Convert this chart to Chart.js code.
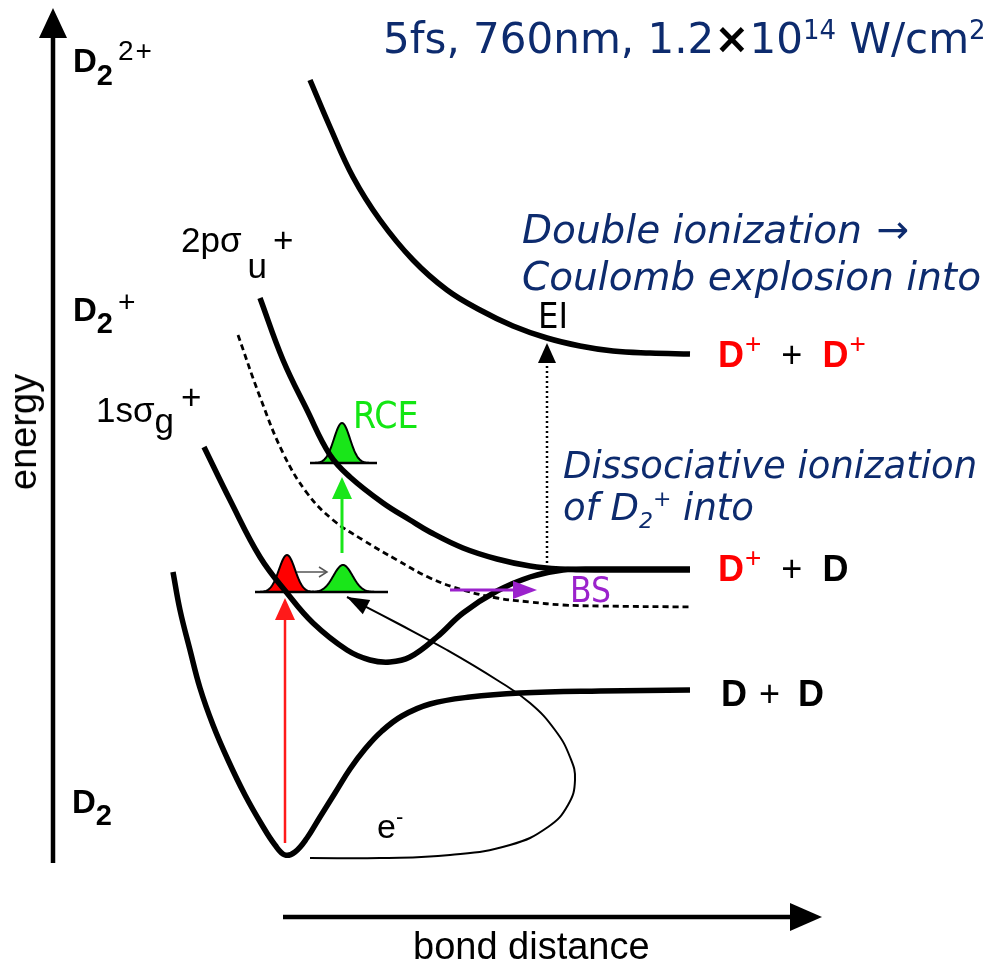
<!DOCTYPE html>
<html>
<head>
<meta charset="utf-8">
<title>D2 potential curves</title>
<script src="https://cdn.jsdelivr.net/npm/chart.js@4.4.1/dist/chart.umd.min.js"></script>
<style>
  body { margin: 0; background: #fff; }
  #wrap { position: relative; width: 999px; height: 973px; overflow: hidden; }
  #chart { position: absolute; left: 0; top: 0; }
  .lbl { position: absolute; white-space: nowrap; line-height: 1; font-family: "Liberation Sans", Arial, sans-serif; }
  .lbl span { position: relative; }
  .bold { font-weight: bold; }
  .navy { font-family: "DejaVu Sans", Verdana, sans-serif; font-style: italic; color: #0d2b6e; }
  .narrow { font-family: "Liberation Sans Narrow", "DejaVu Sans Condensed", sans-serif; }
  .red { color: #ff0000; }
  .thin { font-weight: normal; }
</style>
</head>
<body>
<div id="wrap">
  <canvas id="chart" width="999" height="973"></canvas>

  <div class="lbl" style="left:383px; top:18px; font-size:42px; font-family:'DejaVu Sans', Verdana, sans-serif; color:#0d2b6e;">5fs, 760nm, 1.2<span style="color:#000; font-weight:bold;">×</span>10<span style="font-size:26px; top:-14px;">14</span> W/cm<span style="font-size:26px; top:-14px;">2</span></div>

  <div class="lbl" style="left:23px; top:432px; font-size:38px; transform:translate(-50%,-50%) rotate(-90deg);">energy</div>
  <div class="lbl" style="left:413px; top:927px; font-size:38px;">bond distance</div>

  <div class="lbl bold" style="left:73px; top:44px; font-size:33px;">D<span style="font-size:29px; top:13px;">2</span><span class="thin" style="font-size:28px; top:-12px; margin-left:5px; letter-spacing:2px;">2+</span></div>
  <div class="lbl bold" style="left:73px; top:293px; font-size:33px;">D<span style="font-size:29px; top:12px;">2</span><span class="thin" style="font-size:30px; top:-9px; margin-left:5px;">+</span></div>
  <div class="lbl bold" style="left:72px; top:785px; font-size:33px;">D<span style="font-size:29px; top:12px;">2</span></div>

  <div class="lbl" style="left:96px; top:392px; font-size:35px;">1sσ<span style="top:11px;">g</span><span style="top:-13px; margin-left:7px;">+</span></div>
  <div class="lbl" style="left:181px; top:222px; font-size:35px;">2pσ<span style="top:26px; margin-left:6px;">u</span><span style="margin-left:6px;">+</span></div>

  <div class="lbl narrow" style="left:353px; top:397px; font-size:37px; color:#13e613;">RCE</div>
  <div class="lbl narrow" style="left:538px; top:298px; font-size:36px;">EI</div>
  <div class="lbl narrow" style="left:570px; top:573px; font-size:35px; color:#9b22cc;">BS</div>
  <div class="lbl" style="left:377px; top:809px; font-size:34px;">e<span style="font-size:22px; top:-14px;">-</span></div>

  <div class="lbl bold" style="left:718px; top:337px; font-size:36px;"><span class="red">D</span><span class="red thin" style="font-size:28px; top:-14px; margin-left:1px;">+</span><span class="thin" style="margin-left:20px;">+</span><span class="red" style="margin-left:20px;">D</span><span class="red thin" style="font-size:28px; top:-14px; margin-left:1px;">+</span></div>
  <div class="lbl bold" style="left:718px; top:551px; font-size:36px;"><span class="red">D</span><span class="red thin" style="font-size:28px; top:-14px; margin-left:1px;">+</span><span class="thin" style="margin-left:20px;">+</span><span style="margin-left:20px;">D</span></div>
  <div class="lbl bold" style="left:721px; top:676px; font-size:36px;">D<span class="thin" style="margin-left:12px;">+</span><span style="margin-left:18px;">D</span></div>

  <div class="lbl navy" style="left:522px; top:210px; font-size:39px;">Double ionization <span style="font-style:normal; margin-left:2px;">→</span></div>
  <div class="lbl navy" style="left:522px; top:257px; font-size:39px;">Coulomb explosion into</div>
  <div class="lbl navy" style="left:563px; top:447px; font-size:37px;">Dissociative ionization</div>
  <div class="lbl navy" style="left:563px; top:489px; font-size:37px;">of D<span style="font-size:22px; top:8px;">2</span><span style="font-size:22px; top:-14px;">+</span> into</div>
</div>

<script>
// Potential energy curves of D2 / D2+ / D2++ (bond distance R, energy E, arbitrary units)
const groundR  = [1.23, 1.30, 1.40, 1.50, 1.63, 1.78, 1.95, 2.12, 2.25, 2.35, 2.45, 2.57, 2.70, 2.85, 3.00, 3.15, 3.32, 3.52, 3.80, 4.20, 4.70, 5.50, 6.40];
const groundE  = [2.88, 2.50, 2.10, 1.72, 1.35, 1.00, 0.65, 0.35, 0.15, 0.05, 0.08, 0.22, 0.43, 0.67, 0.91, 1.11, 1.29, 1.44, 1.56, 1.63, 1.67, 1.69, 1.70];
const sigmaGR  = [1.54, 1.80, 2.10, 2.37, 2.63, 2.97, 3.20, 3.40, 3.60, 3.87, 4.13, 4.47, 4.80, 5.13, 5.50, 6.40];
const sigmaGE  = [4.13, 3.60, 3.03, 2.67, 2.37, 2.10, 2.00, 1.98, 2.03, 2.23, 2.47, 2.69, 2.83, 2.90, 2.91, 2.91];
const sigmaUR  = [2.10, 2.33, 2.57, 2.80, 3.00, 3.33, 3.60, 3.80, 4.13, 4.47, 4.80, 5.10, 5.50, 6.40];
const sigmaUE  = [5.62, 5.00, 4.50, 4.05, 3.83, 3.57, 3.40, 3.28, 3.12, 3.01, 2.94, 2.91, 2.90, 2.90];
const coulombR = [2.60, 2.80, 3.03, 3.30, 3.63, 3.97, 4.30, 4.63, 4.97, 5.30, 5.63, 6.00, 6.40];
const coulombE = [7.80, 7.33, 6.83, 6.40, 6.00, 5.70, 5.50, 5.34, 5.22, 5.14, 5.09, 5.07, 5.06];
// field-dressed curve (dashed)
const dressedR = [1.88, 2.10, 2.33, 2.57, 2.83, 3.13, 3.47, 3.80, 4.13, 4.47, 4.80, 5.13, 5.50, 6.42];
const dressedE = [5.25, 4.63, 4.07, 3.67, 3.40, 3.20, 3.00, 2.82, 2.70, 2.62, 2.58, 2.55, 2.54, 2.53];
// returning electron path, ends at the arrow tip
const electronR = [2.60, 3.30, 4.00, 4.60, 4.98, 5.18, 5.25, 5.20, 5.05, 4.80, 4.47, 3.97, 3.47, 2.97];
const electronE = [0.02, 0.02, 0.05, 0.15, 0.33, 0.55, 0.80, 1.03, 1.30, 1.57, 1.80, 2.10, 2.37, 2.63];

// wave packets: centre, baseline, height, spread
const packetR      = [2.37, 2.93, 2.92];
const packetBase   = [2.68, 2.68, 3.97];
const packetHeight = [0.37, 0.27, 0.40];
const packetSpread = [0.08, 0.095, 0.08];
const packetColors = ['#ff0000', '#19e619', '#19e619'];
// black base lines under the packets
const baseR0 = [2.05, 2.60];
const baseR1 = [3.38, 3.27];
const baseE  = [2.68, 3.97];

// arrows: energy axis, distance axis, ionization, RCE, packet shift, BS, EI
const arrowR0 = [0.03, 2.33, 2.35, 2.92, 2.47, 4.00, 4.97];
const arrowE0 = [-0.03, -0.57, 0.17, 3.07, 2.88, 2.70, 2.97];
const arrowR1 = [0.03, 7.72, 2.35, 2.92, 2.77, 4.87, 4.97];
const arrowE1 = [8.52, -0.57, 2.62, 3.83, 2.88, 2.70, 5.17];
const arrowStyles = [
  { color: '#000', width: 4.5, len: 30, half: 14 },
  { color: '#000', width: 4.5, len: 32, half: 14 },
  { color: '#ff1a1a', width: 2.5, len: 22, half: 10 },
  { color: '#19e619', width: 3, len: 22, half: 10 },
  { color: '#555', width: 1.5, len: 8, half: 5, open: true },
  { color: '#9b22cc', width: 3, len: 24, half: 9 },
  { color: '#000', width: 2.5, len: 20, half: 9, dash: [2, 3] }
];

const zip = (xs, ys) => xs.map((x, i) => ({ x: x, y: ys[i] }));

function curve(xs, ys, width, extra) {
  return Object.assign({
    data: zip(xs, ys),
    showLine: true,
    borderColor: '#000',
    borderWidth: width,
    pointRadius: 0,
    tension: 0.4,
    fill: false
  }, extra || {});
}

const datasets = [
  curve(groundR, groundE, 5.5),
  curve(sigmaGR, sigmaGE, 5.5),
  curve(sigmaUR, sigmaUE, 5.5),
  curve(coulombR, coulombE, 5.5),
  curve(dressedR, dressedE, 2.8, { borderDash: [6, 4] }),
  curve(electronR, electronE, 2, { tension: 0.45 })
];
baseE.forEach((e, i) => {
  datasets.push(curve([baseR0[i], baseR1[i]], [e, e], 2.5));
});

function head(ctx, x0, y0, x1, y1, len, half, open) {
  const a = Math.atan2(y1 - y0, x1 - x0);
  const bx = x1 - len * Math.cos(a), by = y1 - len * Math.sin(a);
  const nx = -Math.sin(a) * half, ny = Math.cos(a) * half;
  ctx.beginPath();
  ctx.moveTo(bx + nx, by + ny);
  ctx.lineTo(x1, y1);
  ctx.lineTo(bx - nx, by - ny);
  if (open) {
    ctx.stroke();
  } else {
    ctx.closePath();
    ctx.fill();
  }
}

const decorations = {
  id: 'decorations',
  beforeDatasetsDraw(chart) {
    const ctx = chart.ctx, xs = chart.scales.x, ys = chart.scales.y;
    ctx.save();
    packetR.forEach((r, i) => {
      const s = packetSpread[i];
      ctx.beginPath();
      for (let k = -40; k <= 40; k++) {
        const t = k / 40 * 3.4 * s;
        const px = xs.getPixelForValue(r + t);
        const py = ys.getPixelForValue(packetBase[i] + packetHeight[i] * Math.exp(-t * t / (2 * s * s)));
        if (k === -40) ctx.moveTo(px, py); else ctx.lineTo(px, py);
      }
      ctx.closePath();
      ctx.fillStyle = packetColors[i];
      ctx.fill();
      ctx.lineWidth = 2;
      ctx.strokeStyle = '#000';
      ctx.stroke();
    });
    ctx.restore();
  },
  afterDatasetsDraw(chart) {
    const ctx = chart.ctx, xs = chart.scales.x, ys = chart.scales.y;
    ctx.save();
    arrowR0.forEach((r0, i) => {
      const st = arrowStyles[i];
      const x0 = xs.getPixelForValue(r0), y0 = ys.getPixelForValue(arrowE0[i]);
      const x1 = xs.getPixelForValue(arrowR1[i]), y1 = ys.getPixelForValue(arrowE1[i]);
      const a = Math.atan2(y1 - y0, x1 - x0);
      const cut = st.open ? 1 : st.len * 0.7;
      ctx.strokeStyle = st.color;
      ctx.fillStyle = st.color;
      ctx.lineWidth = st.width;
      ctx.setLineDash(st.dash || []);
      ctx.beginPath();
      ctx.moveTo(x0, y0);
      ctx.lineTo(x1 - cut * Math.cos(a), y1 - cut * Math.sin(a));
      ctx.stroke();
      ctx.setLineDash([]);
      head(ctx, x0, y0, x1, y1, st.len, st.half, st.open);
    });
    // head of the returning electron path
    const n = electronR.length;
    ctx.fillStyle = '#000';
    head(ctx,
      xs.getPixelForValue(electronR[n - 2]), ys.getPixelForValue(electronE[n - 2]),
      xs.getPixelForValue(electronR[n - 1]), ys.getPixelForValue(electronE[n - 1]),
      22, 8, false);
    ctx.restore();
  }
};

new Chart(document.getElementById('chart'), {
  type: 'scatter',
  data: { datasets: datasets },
  options: {
    responsive: false,
    devicePixelRatio: 1,
    animation: false,
    layout: { padding: 0 },
    plugins: { legend: { display: false }, tooltip: { enabled: false } },
    scales: {
      x: { type: 'linear', min: -0.5, max: 9.49, display: false },
      y: { type: 'linear', min: -1.13, max: 8.6, display: false }
    }
  },
  plugins: [decorations]
});
</script>
</body>
</html>
